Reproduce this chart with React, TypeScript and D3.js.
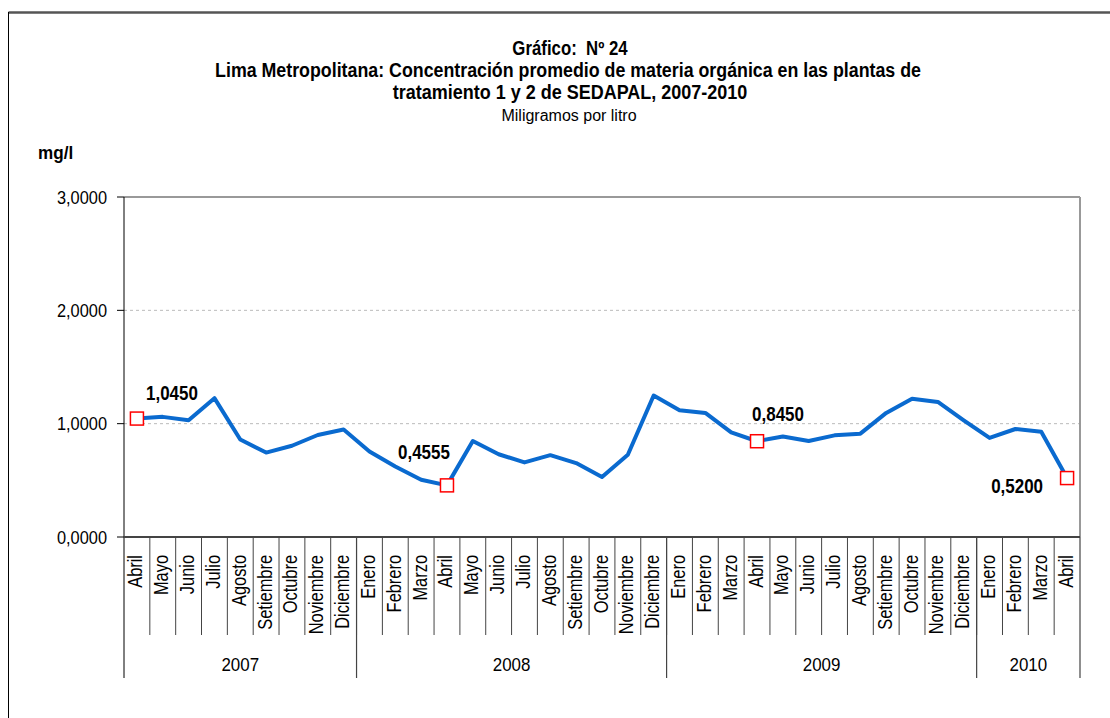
import React from "react";
import * as d3 from "d3";

const months = [
  "Abril","Mayo","Junio","Julio","Agosto","Setiembre","Octubre","Noviembre","Diciembre",
  "Enero","Febrero","Marzo","Abril","Mayo","Junio","Julio","Agosto","Setiembre","Octubre","Noviembre","Diciembre",
  "Enero","Febrero","Marzo","Abril","Mayo","Junio","Julio","Agosto","Setiembre","Octubre","Noviembre","Diciembre",
  "Enero","Febrero","Marzo","Abril",
];
const years = ["2007", "2008", "2009", "2010"];
const yearMonthCounts = [9, 12, 12, 4];
const values = [
  1.045, 1.06, 1.03, 1.225, 0.86, 0.745, 0.805, 0.9, 0.948,
  0.755, 0.622, 0.505, 0.4555, 0.847, 0.73, 0.658, 0.722, 0.652, 0.53, 0.726, 1.248,
  1.118, 1.095, 0.923, 0.845, 0.886, 0.847, 0.897, 0.912, 1.095, 1.22, 1.192, 1.03,
  0.874, 0.953, 0.928, 0.52,
];
const highlighted = [0, 12, 24, 36];
const labelOffsets = [
  { dx: 35, dy: -19 },
  { dx: -23, dy: -26 },
  { dx: 21, dy: -20 },
  { dx: -50, dy: 15 },
];
const yTicks = [0, 1, 2, 3];

const FONT = "'Liberation Sans', Arial, sans-serif";
const fmt = (v: number) => v.toFixed(4).replace(".", ",");

type NTProps = {
  x: number; y: number; size: number; sx: number; bold?: boolean;
  anchor?: "start" | "middle" | "end"; rotate?: number; children: React.ReactNode;
};
function NText({ x, y, size, sx, bold, anchor = "start", rotate = 0, children }: NTProps) {
  return (
    <text
      transform={`translate(${x},${y}) rotate(${rotate}) scale(${sx},1)`}
      textAnchor={anchor}
      fontSize={size}
      fontWeight={bold ? "bold" : "normal"}
      fill="#000"
      style={{ whiteSpace: "pre" }}
    >
      {children}
    </text>
  );
}

export default function App() {
  const W = 1110, H = 718;
  const left = 124, right = 1080, top = 197, bottom = 537;
  const x = d3.scaleBand<number>().domain(d3.range(months.length)).range([left, right]).padding(0);
  const y = d3.scaleLinear().domain([0, 3]).range([bottom, top]);
  const cx = (i: number) => (x(i) as number) + x.bandwidth() / 2;
  const line = d3.line<number>().x((_, i) => cx(i)).y((d) => y(d));

  let acc = 0;
  const yearSpans = years.map((yr, k) => {
    const s = acc;
    acc += yearMonthCounts[k];
    return { yr, start: s, end: acc };
  });
  const xEdge = (i: number) => (i >= months.length ? right : (x(i) as number));

  return (
    <svg width={W} height={H} style={{ position: "absolute", left: 0, top: 0, background: "#fff" }} fontFamily={FONT}>
      <rect x={0} y={0} width={W} height={H} fill="#fff" />
      {/* outer frame */}
      <line x1={8.5} x2={W} y1={12.5} y2={12.5} stroke="#555" strokeWidth={2.5} />
      <line x1={8.5} x2={8.5} y1={12} y2={H} stroke="#000" strokeWidth={1} />

      {/* titles */}
      <NText x={570} y={55} size={20} sx={0.84} bold anchor="middle">{"Gráfico:  Nº 24"}</NText>
      <NText x={568} y={77} size={20} sx={0.89} bold anchor="middle">Lima Metropolitana: Concentración promedio de materia orgánica en las plantas de</NText>
      <NText x={570} y={98.5} size={20} sx={0.9} bold anchor="middle">tratamiento 1 y 2 de SEDAPAL, 2007-2010</NText>
      <NText x={569} y={120.5} size={16} sx={1} anchor="middle">Miligramos por litro</NText>
      <NText x={38} y={159} size={18.6} sx={0.92} bold>mg/l</NText>

      {/* gridlines */}
      {yTicks.filter((t) => t > 0 && t < 3).map((t) => (
        <line key={t} x1={left} x2={right} y1={y(t)} y2={y(t)} stroke="#bbb" strokeWidth={1} strokeDasharray="3,3" />
      ))}
      {/* plot border top/right */}
      <line x1={left} x2={right} y1={top} y2={top} stroke="#999" strokeWidth={2} />
      <line x1={right} x2={right} y1={top} y2={bottom} stroke="#999" strokeWidth={2} />

      {/* y axis */}
      <line x1={left} x2={left} y1={top} y2={678} stroke="#000" strokeWidth={1} />
      {yTicks.map((t) => (
        <g key={t}>
          <line x1={117} x2={left} y1={y(t)} y2={y(t)} stroke="#000" strokeWidth={1} />
          <NText x={107} y={y(t) + 6.5} size={18.6} sx={0.88} anchor="end">{fmt(t)}</NText>
        </g>
      ))}

      {/* x axis */}
      <line x1={left} x2={right} y1={bottom} y2={bottom} stroke="#444" strokeWidth={2} />
      {months.map((m, i) => (
        <g key={i}>
          {i > 0 && <line x1={x(i)} x2={x(i)} y1={bottom} y2={635} stroke="#444" strokeWidth={1} />}
          <NText x={cx(i) + 5.5} y={555} size={20.5} sx={0.8} rotate={-90} anchor="end">{m}</NText>
        </g>
      ))}
      {yearSpans.map((s) => (
        <g key={s.yr}>
          <line x1={xEdge(s.end)} x2={xEdge(s.end)} y1={bottom} y2={678} stroke="#444" strokeWidth={1.2} />
          <NText x={(xEdge(s.start) + xEdge(s.end)) / 2} y={671} size={18.6} sx={0.91} anchor="middle">{s.yr}</NText>
        </g>
      ))}

      {/* series */}
      <path d={line(values) ?? ""} fill="none" stroke="#0a6acf" strokeWidth={4} strokeLinejoin="round" />
      {highlighted.map((i, k) => (
        <g key={i}>
          <rect x={cx(i) - 6.5} y={y(values[i]) - 6.5} width={13} height={13} fill="#fff" stroke="#f00" strokeWidth={1.5} />
          <NText x={cx(i) + labelOffsets[k].dx} y={y(values[i]) + labelOffsets[k].dy} size={19.5} sx={0.87} bold anchor="middle">{fmt(values[i])}</NText>
        </g>
      ))}
    </svg>
  );
}
